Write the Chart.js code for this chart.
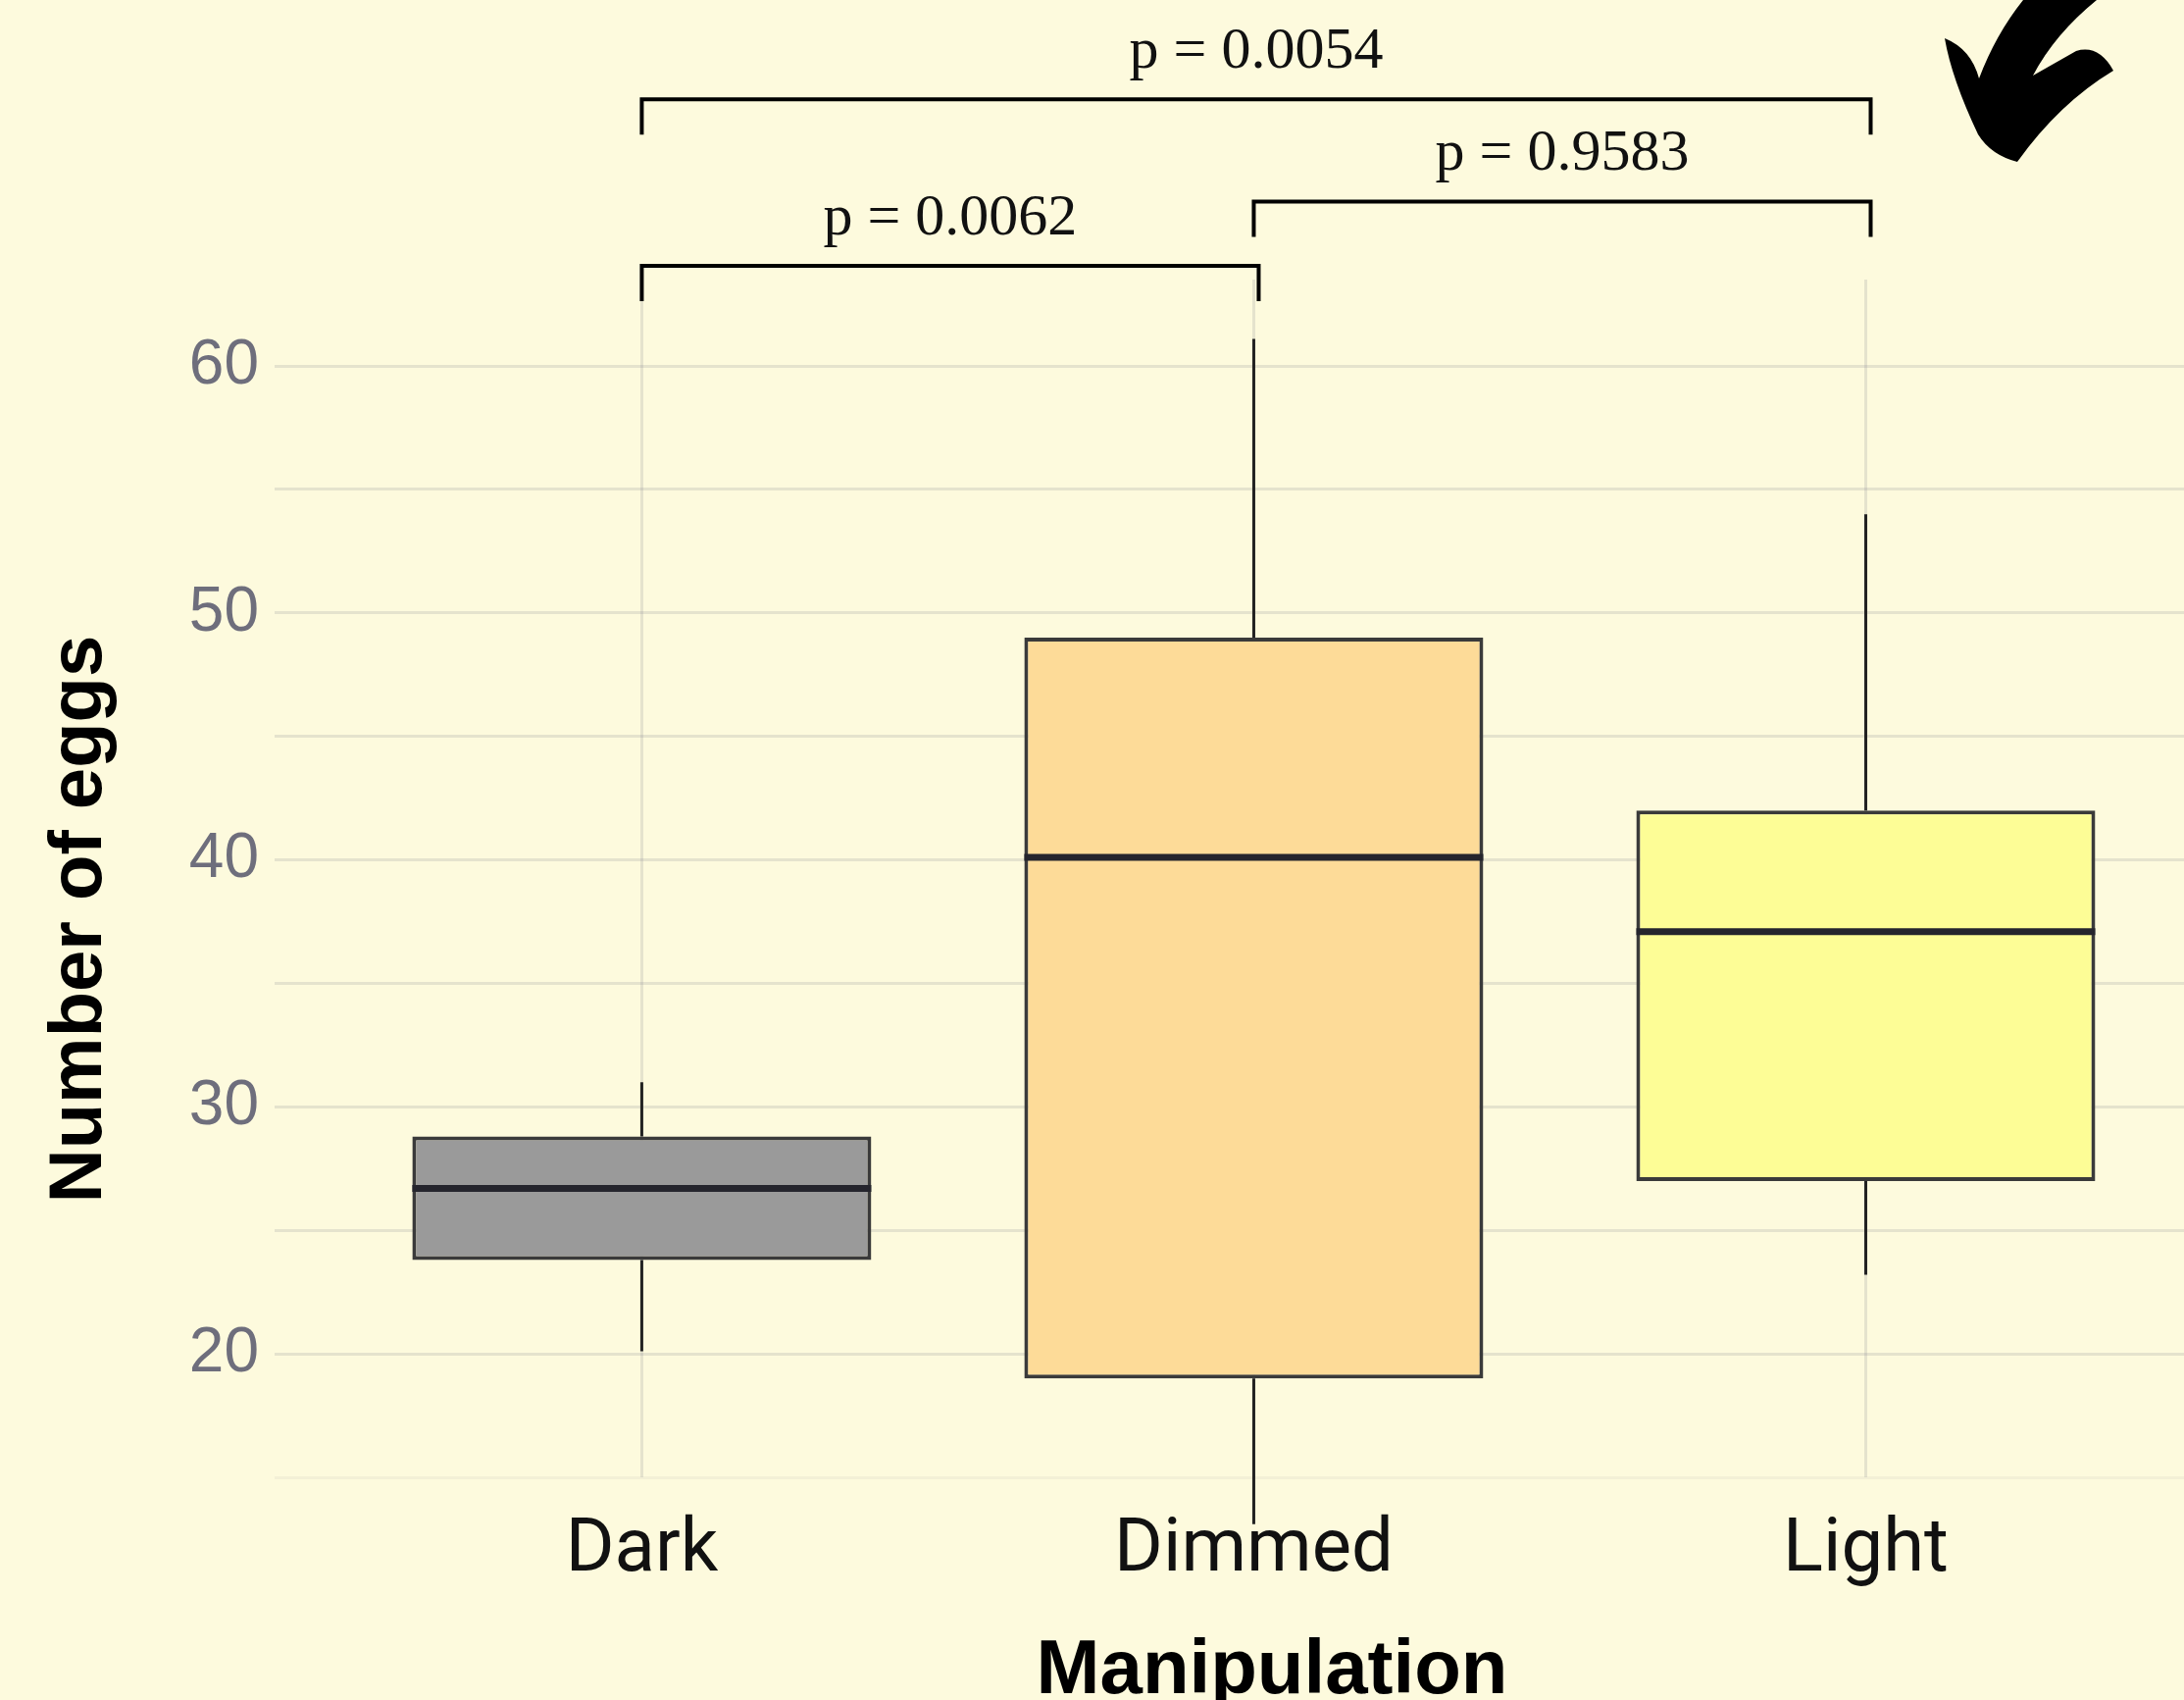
<!DOCTYPE html>
<html>
<head>
<meta charset="utf-8">
<script src="https://cdn.jsdelivr.net/npm/chart.js@4.4.1/dist/chart.umd.min.js"></script>
<style>
  html, body { margin: 0; padding: 0; background: #fdfadd; }
  canvas { display: block; }
</style>
</head>
<body>
<canvas id="chart" width="2227" height="1733"></canvas>
<script>
// data
const categories = ['Dark', 'Dimmed', 'Light'];
const whiskerLow = [20.1, 13.1, 23.2];
const boxLow = [23.8, 19.0, 27.0];
const medians = [26.7, 40.1, 37.1];
const boxHigh = [28.8, 49.0, 42.0];
const whiskerHigh = [31.0, 61.1, 54.0];
const yTickLabels = [20, 30, 40, 50, 60];
const comparisons = [[0, 1], [1, 2], [0, 2]];
const pValues = ['p = 0.0062', 'p = 0.9583', 'p = 0.0054'];

const boxColors = ['#9a9a9a', '#fddb98', '#fdfd96'];
const gridColor = 'rgba(110, 110, 130, 0.17)';

// whiskers + medians, drawn from the bar elements
const boxExtras = {
  id: 'boxExtras',
  afterDatasetsDraw(chart) {
    const ctx = chart.ctx;
    const y = chart.scales.y;
    const bars = chart.getDatasetMeta(0).data;
    ctx.save();
    bars.forEach((bar, i) => {
      ctx.strokeStyle = '#222';
      ctx.lineWidth = 3;
      ctx.beginPath();
      ctx.moveTo(bar.x, y.getPixelForValue(whiskerLow[i]));
      ctx.lineTo(bar.x, y.getPixelForValue(boxLow[i]));
      ctx.moveTo(bar.x, y.getPixelForValue(boxHigh[i]));
      ctx.lineTo(bar.x, y.getPixelForValue(whiskerHigh[i]));
      ctx.stroke();
      ctx.lineWidth = 7;
      ctx.strokeStyle = '#25252d';
      ctx.beginPath();
      const ym = y.getPixelForValue(medians[i]);
      ctx.moveTo(bar.x - bar.width / 2, ym);
      ctx.lineTo(bar.x + bar.width / 2, ym);
      ctx.stroke();
    });
    ctx.restore();
  }
};

// significance brackets, titles and the arrow
const annotations = {
  id: 'annotations',
  afterDraw(chart, args, opts) {
    const ctx = chart.ctx;
    const x = chart.scales.x;
    const y = chart.scales.y;
    ctx.save();
    ctx.strokeStyle = '#000';
    ctx.lineWidth = 4;
    ctx.fillStyle = '#111';
    ctx.font = '60px "Liberation Serif", "Times New Roman", serif';
    ctx.textAlign = 'center';
    ctx.textBaseline = 'middle';
    comparisons.forEach((c, k) => {
      const x1 = x.getPixelForValue(c[0] + 1);
      const x2 = x.getPixelForValue(c[1] + 1) + 5;
      const yl = y.getPixelForValue(opts.levels[k]);
      ctx.beginPath();
      ctx.moveTo(x1, yl + opts.drop);
      ctx.lineTo(x1, yl);
      ctx.lineTo(x2, yl);
      ctx.lineTo(x2, yl + opts.drop);
      ctx.stroke();
      ctx.fillText(pValues[k], (x1 + x2) / 2, yl - 48);
    });

    // axis titles
    ctx.fillStyle = '#000';
    ctx.font = 'bold 78px "Liberation Sans", Arial, sans-serif';
    ctx.textBaseline = 'alphabetic';
    ctx.fillText('Manipulation', 1297, 1726);
    ctx.save();
    ctx.translate(82, 937);
    ctx.rotate(-Math.PI / 2);
    ctx.font = 'bold 76px "Liberation Sans", Arial, sans-serif';
    ctx.textBaseline = 'middle';
    ctx.fillText('Number of eggs', 0, 0);
    ctx.restore();

    // hand-drawn arrow in the corner
    ctx.fillStyle = '#000';
    ctx.beginPath();
    ctx.moveTo(2063, 0);
    ctx.quadraticCurveTo(2035, 35, 2018, 80);
    ctx.quadraticCurveTo(2010, 50, 1983, 39);
    ctx.quadraticCurveTo(1990, 80, 2017, 137);
    ctx.quadraticCurveTo(2030, 158, 2057, 165);
    ctx.quadraticCurveTo(2100, 105, 2155, 72);
    ctx.quadraticCurveTo(2140, 45, 2117, 52);
    ctx.lineTo(2073, 77);
    ctx.quadraticCurveTo(2095, 35, 2138, 0);
    ctx.closePath();
    ctx.fill();
    ctx.restore();
  }
};

new Chart(document.getElementById('chart'), {
  type: 'bar',
  data: {
    datasets: [{
      data: categories.map((c, i) => ({ x: i + 1, y: [boxLow[i], boxHigh[i]] })),
      backgroundColor: boxColors,
      borderColor: '#3a3a3a',
      borderWidth: 4,
      borderSkipped: false,
      categoryPercentage: 1,
      barPercentage: 0.75
    }]
  },
  options: {
    responsive: false,
    animation: false,
    layout: { padding: { top: 285, left: 35, right: 0, bottom: 0 } },
    plugins: {
      legend: { display: false },
      tooltip: { enabled: false },
      annotations: { levels: [64.06, 66.66, 70.8], drop: 36 }
    },
    scales: {
      x: {
        type: 'linear',
        min: 0.4,
        max: 3.52,
        offset: false,
        z: 1,
        afterBuildTicks: s => { s.ticks = categories.map((c, i) => ({ value: i + 1 })); },
        afterFit: s => { s.height = 227; },
        border: { display: false },
        grid: { offset: false, color: gridColor, lineWidth: 3, drawTicks: false },
        ticks: {
          padding: 30,
          color: '#111',
          font: { family: 'Roboto, "Liberation Sans", sans-serif', size: 76 },
          callback: v => categories[v - 1]
        }
      },
      y: {
        min: 15,
        max: 63.5,
        z: 1,
        afterBuildTicks: s => {
          const t = [];
          for (let v = 15; v <= 60; v += 5) t.push({ value: v });
          s.ticks = t;
        },
        afterFit: s => { s.width = 245; },
        border: { display: false },
        grid: {
          color: c => c.tick && c.tick.value === 15 ? 'rgba(110,110,130,0.07)' : gridColor,
          lineWidth: 3,
          drawTicks: false
        },
        ticks: {
          padding: 16,
          color: '#6e6e7c',
          font: { family: '"Liberation Sans", Arial, sans-serif', size: 64 },
          callback: v => yTickLabels.includes(v) ? v : ''
        }
      }
    }
  },
  plugins: [boxExtras, annotations]
});
</script>
</body>
</html>
